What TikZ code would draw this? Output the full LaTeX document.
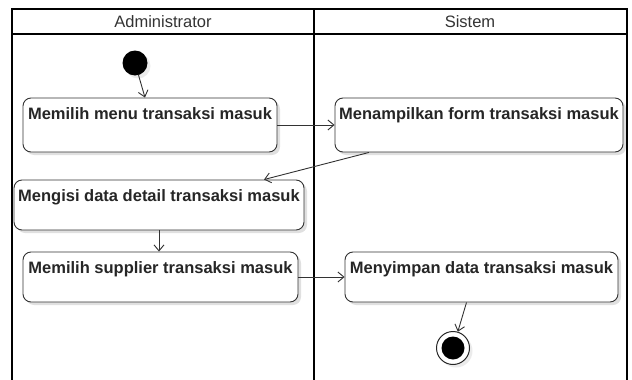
\documentclass[tikz,border=0pt]{standalone}
\usepackage{fontspec}
\setmainfont{Liberation Sans}
\usetikzlibrary{arrows.meta,shadows}
\tikzset{
    act/.style={draw=black!80, line width=0.9pt, rounded corners=8pt, fill=white,
        drop shadow={shadow xshift=3pt, shadow yshift=-3pt, fill=black, opacity=0.12},
        font=\fontsize{16.5}{18}\selectfont\bfseries, text=black!85,
        inner ysep=9pt, text height=12pt},
    flow/.style={draw=black!80, line width=0.9pt, -{Straight Barb[length=6pt,width=10pt]}},
    lane/.style={font=\fontsize{16.5}{18}\selectfont, text=black!80}
}
\begin{document}
\begin{tikzpicture}[x=1pt,y=-1pt]
            \useasboundingbox (0,0) rectangle (632,380);
            \draw[line width=1.4pt] (12,380)--(12,9)--(627,9)--(627,380);
            \draw[line width=1.4pt] (12,34)--(627,34);
            \draw[line width=1.4pt] (314,9)--(314,380);
            \node[lane] (hadm) at (163,22) {Administrator};
            \node[lane] (hsis) at (470,22) {Sistem};
            \node[circle, fill=black, minimum size=25pt, inner sep=0,
                drop shadow={shadow xshift=3pt, shadow yshift=-3pt, fill=black, opacity=0.08}] (start) at (135,63) {};
            \node[act, minimum width=254pt, text depth=24pt] (b1) at (150,125) {Memilih menu transaksi masuk};
            \node[act, minimum width=288pt, text depth=24pt] (b2) at (479,125) {Menampilkan form transaksi masuk};
            \node[act, minimum width=290pt, text depth=20pt] (b3) at (159,205) {Mengisi data detail transaksi masuk};
            \node[act, minimum width=275pt, text depth=20pt] (b4) at (160.5,277) {Memilih supplier transaksi masuk};
            \node[act, minimum width=273pt, text depth=20pt] (b5) at (481.5,277) {Menyimpan data transaksi masuk};
            \node[circle, draw=black!85, line width=1pt, fill=white, minimum size=33pt, inner sep=0,
                drop shadow={shadow xshift=3pt, shadow yshift=-3pt, fill=black, opacity=0.08}] (end) at (453,348) {};
            \node[circle, fill=black, minimum size=23pt, inner sep=0] (endin) at (end) {};
            \draw[flow] (start) -- ([xshift=-5pt]b1.north);
            \draw[flow] (b1) -- (b2);
            \draw[flow] ([xshift=-110pt]b2.south) -- ([xshift=105pt]b3.north);
            \draw[flow] (b3.south) -- (b3.south |- b4.north);
            \draw[flow] (b4) -- (b5);
            \draw[flow] ([xshift=-15pt]b5.south) -- (end);
        \end{tikzpicture}
\end{document}
